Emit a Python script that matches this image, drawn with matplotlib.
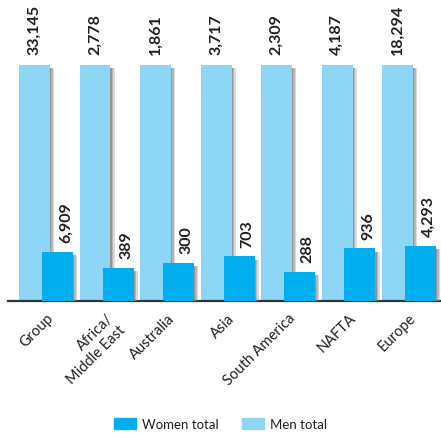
import matplotlib
matplotlib.use("Agg")
import matplotlib.pyplot as plt
import matplotlib.patheffects as pe
import numpy as np

categories = ["Group", "Africa/\nMiddle East", "Australia", "Asia", "South America", "NAFTA", "Europe"]
men_total = [33145, 2778, 1861, 3717, 2309, 4187, 18294]
women_total = [6909, 389, 300, 703, 288, 936, 4293]

MEN_COLOR = "#8DD6F5"
WOMEN_COLOR = "#00AEEF"
TEXT_COLOR = "#231F20"
FONT = ["Lato", "DejaVu Sans"]

W, H = 441, 439
fig = plt.figure(figsize=(W / 100, H / 100), dpi=100)
ax = fig.add_axes([8 / W, (H - 302) / H, 433 / W, 302 / H])

x = np.arange(len(categories))
men = np.array(men_total, dtype=float)
women = np.array(women_total, dtype=float)
men_h = men / men
women_h = women / men

pitch = 60.5
off = 11.5 / pitch
bw = 31 / pitch
shadow = [pe.SimplePatchShadow(offset=(3.0, -2.5), shadow_rgbFace="#9a9a9a", alpha=0.35),
          pe.SimplePatchShadow(offset=(2.0, -2.5), shadow_rgbFace="#8a8a8a", alpha=0.45),
          pe.SimplePatchShadow(offset=(1.0, -2.5), shadow_rgbFace="#7a7a7a", alpha=0.55),
          pe.Normal()]

mb = ax.bar(x - off, men_h, width=bw, color=MEN_COLOR, zorder=2)
wb = ax.bar(x + off, women_h, width=bw, color=WOMEN_COLOR, zorder=3)
for r in list(mb) + list(wb):
    r.set_path_effects(shadow)

for xi, h, v in zip(x - off, men_h, men_total):
    ax.annotate(f"{v:,}", (xi, h), xytext=(0, 8), textcoords="offset points",
                rotation=90, ha="center", va="bottom", fontsize=11.5,
                fontweight="bold", color=TEXT_COLOR, family=FONT)
for xi, h, v in zip(x + off, women_h, women_total):
    ax.annotate(f"{v:,}", (xi, h), xytext=(6, 7), textcoords="offset points",
                rotation=90, ha="center", va="bottom", fontsize=11.5,
                fontweight="bold", color=TEXT_COLOR, family=FONT)

ax.set_xlim(-38 / pitch, (433 - 38) / pitch)
ax.set_ylim(0, 302 / 236)
for s in ["top", "right", "left"]:
    ax.spines[s].set_visible(False)
ax.spines["bottom"].set_linewidth(1.6)
ax.spines["bottom"].set_color("#333333")
ax.set_yticks([])
ax.set_xticks(x)
ax.set_xticklabels(categories, rotation=45, ha="right", va="top",
                   rotation_mode="anchor", fontsize=10.5, color=TEXT_COLOR,
                   family=FONT)
ax.tick_params(axis="x", length=0, pad=7)
ax.set_facecolor("none")

handles = [plt.Rectangle((0, 0), 1, 1, color=WOMEN_COLOR), plt.Rectangle((0, 0), 1, 1, color=MEN_COLOR)]
leg = fig.legend(handles, ["Women total", "Men total"], loc="center",
                 bbox_to_anchor=(0.5, (H - 425) / H), ncol=2, frameon=False,
                 prop={"family": FONT, "size": 9.5}, handlelength=1.67,
                 handleheight=0.83, handletextpad=0.4, columnspacing=1.8)
for t in leg.get_texts():
    t.set_color(TEXT_COLOR)

fig.savefig("out.png", dpi=100)
